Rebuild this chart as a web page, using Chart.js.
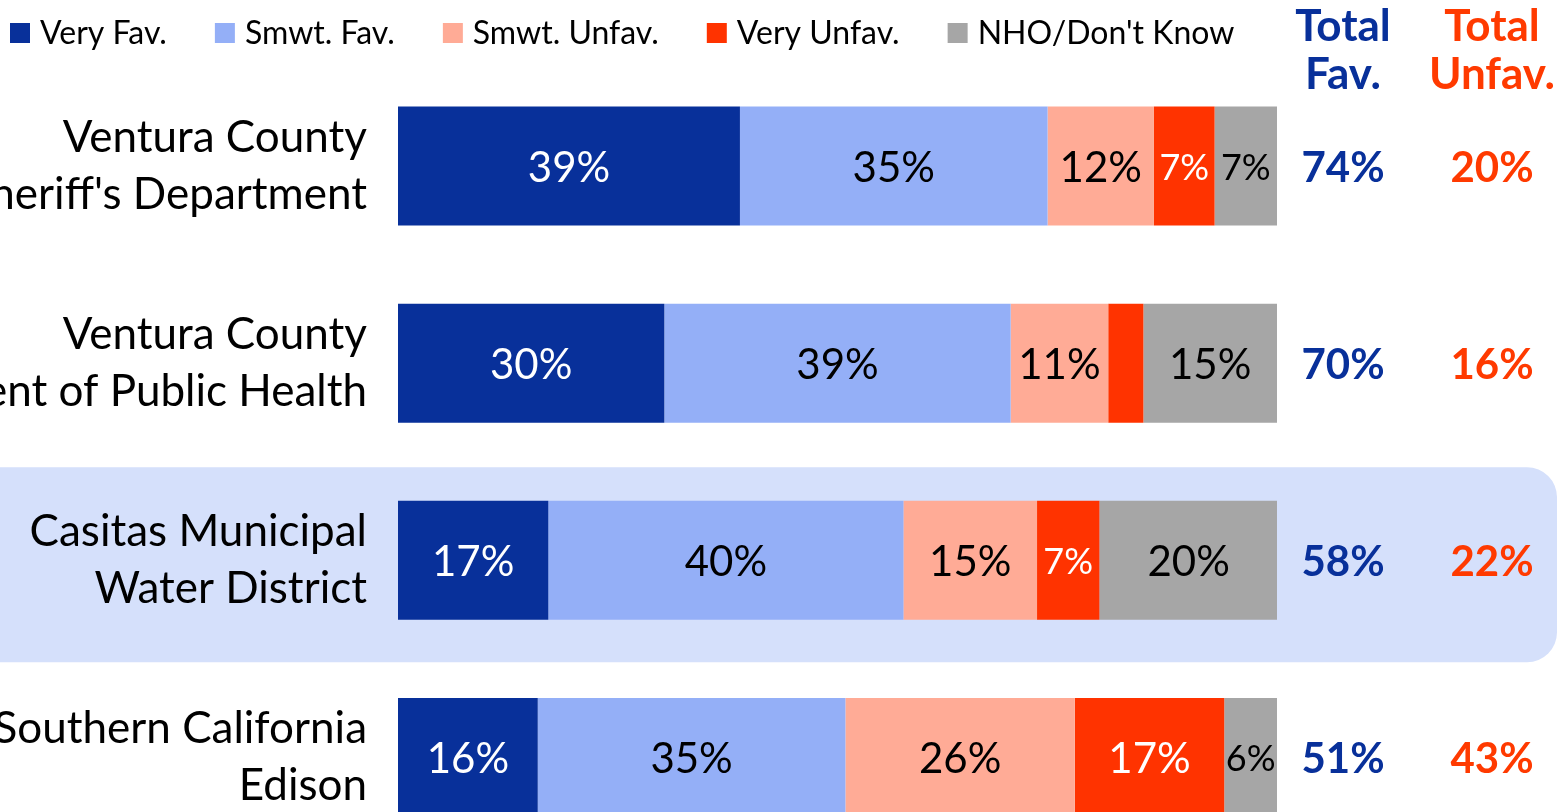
<!DOCTYPE html>
<html>
<head>
<meta charset="utf-8">
<script src="https://cdn.jsdelivr.net/npm/chart.js@4.4.1/dist/chart.umd.min.js"></script>
<style>
  html, body { margin: 0; padding: 0; background: #fff; overflow: hidden; }
  #wrap { position: relative; width: 1557px; height: 856px; }
</style>
</head>
<body>
<div id="wrap"><canvas id="favChart"></canvas></div>
<script>
// Data
var categories = [
    ['Ventura County', "Sheriff's Department"],
    ['Ventura County', 'Department of Public Health'],
    ['Casitas Municipal', 'Water District'],
    ['Southern California', 'Edison']
];
var seriesNames = ['Very Fav.', 'Smwt. Fav.', 'Smwt. Unfav.', 'Very Unfav.', "NHO/Don't Know"];
var veryFav    = [38.9, 30.3, 17.1, 15.9];
var smwtFav    = [35.0, 39.4, 40.4, 35.0];
var smwtUnfav  = [12.1, 11.1, 15.2, 26.1];
var veryUnfav  = [6.9, 4.0, 7.1, 17.0];
var nhoDontKnow = [7.1, 15.2, 20.3, 6.0];
var totalFav   = [74, 70, 58, 51];
var totalUnfav = [20, 16, 22, 43];
var highlightIndex = 2;

var colors = ['#08309a', '#94aff7', '#ffab96', '#ff3300', '#a6a6a6'];
var labelColors = ['#fff', '#000', '#000', '#fff', '#000'];
var FONT = 'Lato';

// Highlight band behind the Casitas row
var highlightPlugin = {
    id: 'highlight',
    beforeDraw: function(chart) {
        var ctx = chart.ctx;
        var yc = chart.scales.y.getPixelForValue(highlightIndex);
        ctx.save();
        ctx.fillStyle = '#d5e0fb';
        ctx.beginPath();
        ctx.roundRect(-40, yc - 93, chart.width + 40, 195, 30);
        ctx.fill();
        ctx.restore();
    }
};

// Percent labels inside the bars
var barLabelPlugin = {
    id: 'barLabels',
    afterDatasetsDraw: function(chart) {
        var ctx = chart.ctx;
        ctx.save();
        ctx.textAlign = 'center';
        ctx.textBaseline = 'middle';
        chart.data.datasets.forEach(function(ds, di) {
            var meta = chart.getDatasetMeta(di);
            meta.data.forEach(function(bar, i) {
                var w = Math.abs(bar.x - bar.base);
                if (w < 45) return;
                var size = w < 80 ? 36 : 42;
                ctx.font = size + 'px ' + FONT;
                ctx.fillStyle = labelColors[di];
                ctx.fillText(Math.round(ds.data[i]) + '%', (bar.x + bar.base) / 2, bar.y + 2);
            });
        });
        ctx.restore();
    }
};

// Legend, column headers and totals
var extrasPlugin = {
    id: 'extras',
    afterDraw: function(chart) {
        var ctx = chart.ctx;
        ctx.save();
        // legend
        ctx.font = '32px ' + FONT;
        ctx.textBaseline = 'middle';
        ctx.textAlign = 'left';
        var x = 10;
        chart.data.datasets.forEach(function(ds) {
            ctx.fillStyle = ds.backgroundColor;
            ctx.fillRect(x, 23, 20, 20);
            ctx.fillStyle = '#000';
            ctx.fillText(ds.label, x + 30, 34);
            x += 30 + ctx.measureText(ds.label).width + 48;
        });
        // headers
        var favX = 1343, unfavX = 1492;
        ctx.font = 'bold 44px ' + FONT;
        ctx.textAlign = 'center';
        ctx.fillStyle = '#08309a';
        ctx.fillText('Total', favX, 27);
        ctx.fillText('Fav.', favX, 75);
        ctx.fillStyle = '#ff3a00';
        ctx.fillText('Total', unfavX, 27);
        ctx.fillText('Unfav.', unfavX, 75);
        // totals
        ctx.font = 'bold 42px ' + FONT;
        var y = chart.scales.y;
        categories.forEach(function(c, i) {
            var yc = y.getPixelForValue(i) + 2;
            ctx.fillStyle = '#08309a';
            ctx.fillText(totalFav[i] + '%', favX, yc);
            ctx.fillStyle = '#ff3a00';
            ctx.fillText(totalUnfav[i] + '%', unfavX, yc);
        });
        ctx.restore();
    }
};

var seriesData = [veryFav, smwtFav, smwtUnfav, veryUnfav, nhoDontKnow];

window.onload = function() {
    var ctxFav = document.getElementById('favChart').getContext('2d');
    var favChart = new Chart(ctxFav, {
        type: 'bar',
        data: {
            labels: categories,
            datasets: seriesData.map(function(d, i) {
                return {
                    label: seriesNames[i],
                    data: d,
                    backgroundColor: colors[i],
                    borderWidth: 0,
                    barPercentage: 0.604,
                    categoryPercentage: 1
                };
            })
        },
        options: {
            indexAxis: 'y',
            responsive: true,
            maintainAspectRatio: false,
            animation: false,
            layout: { padding: { top: 67.5, right: 280, left: 0, bottom: 0 } },
            plugins: {
                legend: { display: false },
                tooltip: { enabled: false }
            },
            scales: {
                x: {
                    stacked: true,
                    min: 0,
                    max: 100,
                    display: false
                },
                y: {
                    stacked: true,
                    grid: { display: false },
                    border: { display: false },
                    ticks: {
                        color: '#000',
                        padding: 23,
                        font: { family: FONT, size: 44, lineHeight: 1.3 }
                    },
                    afterFit: function(scale) {
                        scale.width = 398;
                        scale.paddingTop = 0;
                        scale.paddingBottom = 0;
                    }
                }
            }
        },
        plugins: [highlightPlugin, barLabelPlugin, extrasPlugin]
    });
};
</script>
</body>
</html>
